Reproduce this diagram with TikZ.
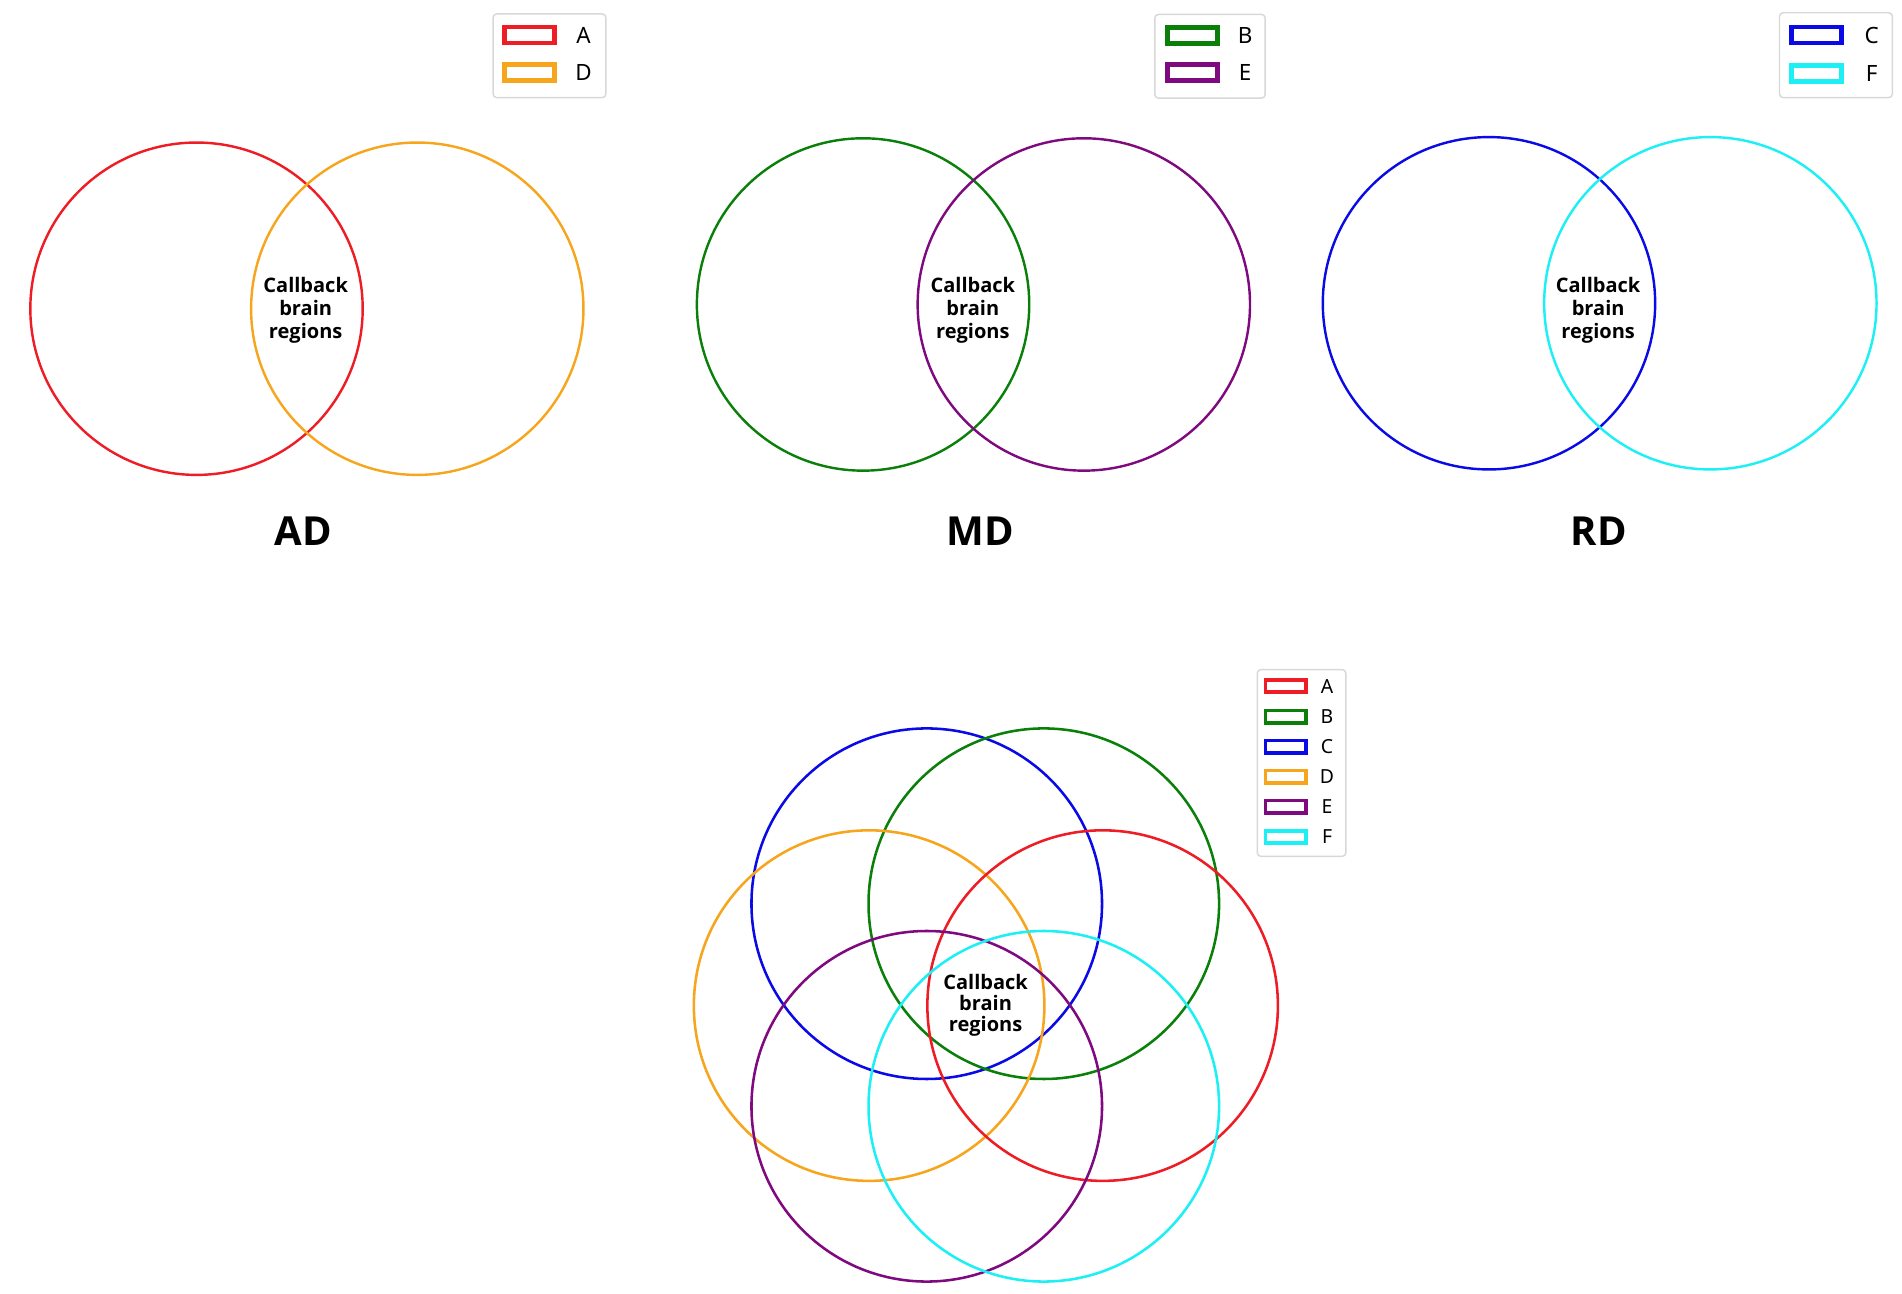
\documentclass[tikz,border=0pt]{standalone}
\usepackage{fontspec}
\setmainfont{Noto Sans}
\newfontfamily\boldfam{Open Sans}
\definecolor{cA}{HTML}{EE1C25}
\definecolor{cB}{HTML}{0A800A}
\definecolor{cC}{HTML}{0A0AE6}
\definecolor{cD}{HTML}{F7A51C}
\definecolor{cE}{HTML}{7F0A80}
\definecolor{cF}{HTML}{1CF0F5}
\definecolor{lgframe}{HTML}{D8D8D8}
\tikzset{
  vc/.style={circle, draw=#1, line width=2pt, inner sep=0pt, minimum size=274pt},
  vcb/.style={circle, draw=#1, line width=2.1pt, inner sep=0pt, minimum size=289pt},
  ctext/.style={font=\boldfam\bfseries\fontsize{16.5}{19}\selectfont, align=center, inner sep=0pt},
  ctextb/.style={font=\boldfam\bfseries\fontsize{16.5}{17.4}\selectfont, align=center, inner sep=0pt},
  title/.style={font=\boldfam\bfseries\fontsize{33}{36}\selectfont, inner sep=0pt},
  lgbox/.style={draw=lgframe, line width=1.2pt, rounded corners=3pt, fill=white, inner sep=0pt},
  lgpatch/.style={draw=#1, line width=3.8pt, inner sep=0pt, minimum width=41.2pt, minimum height=13.2pt},
  lgpatchb/.style={draw=#1, line width=3pt, inner sep=0pt, minimum width=33.6pt, minimum height=10pt},
  lgtext/.style={font=\fontsize{18.5}{20}\selectfont, inner sep=0pt},
  lgtextb/.style={font=\fontsize{16}{17}\selectfont, inner sep=0pt}
}
\begin{document}
\begin{tikzpicture}[x=1pt,y=-1pt]
\useasboundingbox (0,0) rectangle (1568,1066);
% ---------- AD ----------
\node[vc=cA] (adA) at (162,254.5) {};
\node[vc=cD] (adD) at (344,254.5) {};
\node[ctext] (adT) at (252,256) {Callback\\brain\\regions};
\node[title] (adTitle) at (250,438) {AD};
\node[lgbox, minimum width=93pt, minimum height=69pt] (adL) at (453,46) {};
\node[lgpatch=cA] (adLA) at (436.5,29) {};
\node[lgpatch=cD] (adLD) at (436.5,60) {};
\node[lgtext] (adLAt) at (481,29) {A};
\node[lgtext] (adLDt) at (481,60) {D};
% ---------- MD ----------
\node[vc=cB] (mdB) at (711.5,251) {};
\node[vc=cE] (mdE) at (893.5,251) {};
\node[ctext] (mdT) at (802,256) {Callback\\brain\\regions};
\node[title] (mdTitle) at (808,438) {MD};
\node[lgbox, minimum width=91pt, minimum height=69pt] (mdL) at (997.5,46.4) {};
\node[lgpatch=cB] (mdLB) at (983,29.5) {};
\node[lgpatch=cE] (mdLE) at (983,60) {};
\node[lgtext] (mdLBt) at (1026.5,29.5) {B};
\node[lgtext] (mdLEt) at (1026.5,60) {E};
% ---------- RD ----------
\node[vc=cC] (rdC) at (1227.5,250) {};
\node[vc=cF] (rdF) at (1410,250) {};
\node[ctext] (rdT) at (1317.5,256) {Callback\\brain\\regions};
\node[title] (rdTitle) at (1318,438) {RD};
\node[lgbox, minimum width=93pt, minimum height=70pt] (rdL) at (1513.5,45.5) {};
\node[lgpatch=cC] (rdLC) at (1497.5,29) {};
\node[lgpatch=cF] (rdLF) at (1497.5,60.4) {};
\node[lgtext] (rdLCt) at (1543,29) {C};
\node[lgtext] (rdLFt) at (1543,60.4) {F};
% ---------- combined ----------
\node[vcb=cC] (allC) at (764,745) {};
\node[vcb=cB] (allB) at (860.5,745) {};
\node[vcb=cD] (allD) at (716.5,829) {};
\node[vcb=cA] (allA) at (909,829) {};
\node[vcb=cE] (allE) at (764,912) {};
\node[vcb=cF] (allF) at (860.5,912) {};
\node[ctextb] (allT) at (812.5,829) {Callback\\brain\\regions};
\node[lgbox, minimum width=73pt, minimum height=154pt] (allL) at (1073,629) {};
\foreach \c/\y in {A/565.6, B/590.8, C/615.6, D/640.3, E/665, F/689.8}{
  \node[lgpatchb=c\c] (allL\c) at (1060,\y) {};
  \node[lgtextb] (allL\c t) at (1094,\y) {\c};
}
\end{tikzpicture}
\end{document}
